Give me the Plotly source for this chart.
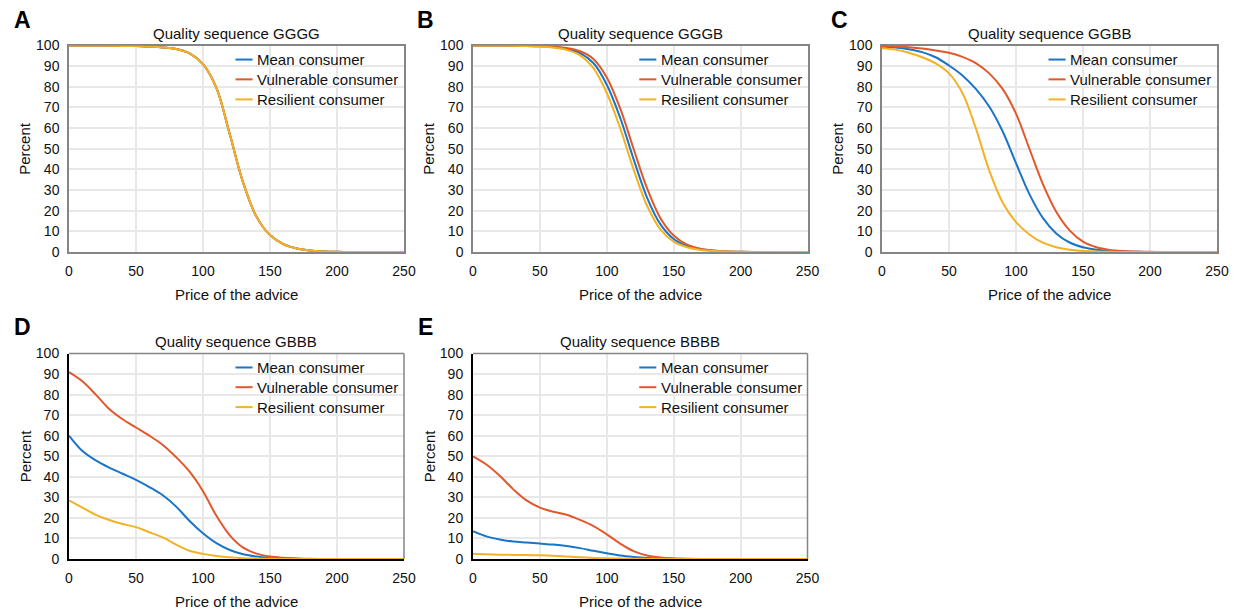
import plotly.graph_objects as go

# Price of the advice (x) shared by every panel
price = [0, 10, 20, 30, 40, 50, 60, 70, 80, 90, 100, 110, 120,
         130, 140, 150, 160, 170, 180, 190, 200, 210, 220, 230, 240, 250]

series_names = ["Mean consumer", "Vulnerable consumer", "Resilient consumer"]
series_colors = ["#1a75c6", "#e2582a", "#f2b225"]

panel_letters = ["A", "B", "C", "D", "E"]
panel_titles = ["Quality sequence GGGG", "Quality sequence GGGB", "Quality sequence GGBB",
                "Quality sequence GBBB", "Quality sequence BBBB"]

# Percent of consumers buying advice, per quality sequence
gggg_mean = [100, 100, 100, 99.9, 99.8, 99.7, 99.4, 99, 98.3, 96.2, 91, 79.5, 57,
             33.5, 17, 8.2, 3.8, 1.7, 0.7, 0.3, 0.1, 0, 0, 0, 0, 0]
gggg_vuln = [100, 100, 100, 99.9, 99.8, 99.7, 99.4, 99, 98.3, 96.2, 91, 79.5, 57,
             33.5, 17, 8.2, 3.8, 1.7, 0.7, 0.3, 0.1, 0, 0, 0, 0, 0]
gggg_res = [100, 100, 100, 99.9, 99.8, 99.7, 99.4, 99, 98.3, 96.2, 91, 79.5, 57,
            33.5, 17, 8.2, 3.8, 1.7, 0.7, 0.3, 0.1, 0, 0, 0, 0, 0]

gggb_mean = [100, 100, 100, 99.9, 99.8, 99.6, 99.2, 98.4, 96.3, 91.5, 81, 65, 45,
             26.5, 13.5, 6.3, 2.9, 1.3, 0.6, 0.25, 0.1, 0, 0, 0, 0, 0]
gggb_vuln = [100, 100, 100, 99.9, 99.8, 99.7, 99.4, 98.8, 97.2, 93.5, 84.5, 69.5, 50,
             31, 16.5, 8, 3.6, 1.6, 0.75, 0.3, 0.12, 0, 0, 0, 0, 0]
gggb_res = [100, 100, 100, 99.9, 99.7, 99.5, 99, 97.9, 95.2, 89, 77, 60, 40,
            22.5, 11, 5, 2.3, 1, 0.45, 0.2, 0.08, 0, 0, 0, 0, 0]

ggbb_mean = [99.4, 99, 98.2, 96.8, 94.3, 90.3, 85.5, 79, 70.5, 58.5, 43, 28, 16.5,
             9, 4.6, 2.3, 1.1, 0.5, 0.2, 0.1, 0, 0, 0, 0, 0, 0]
ggbb_vuln = [99.7, 99.5, 99.1, 98.5, 97.6, 96.5, 94.5, 91.5, 86.5, 79, 67, 50, 33,
             19.5, 10.5, 5, 2.3, 1, 0.45, 0.2, 0.1, 0, 0, 0, 0, 0]
ggbb_res = [98.7, 98, 96.5, 94.3, 91.3, 86.5, 77, 60, 39.5, 24, 14.5, 8.5, 4.5,
            2.3, 1.1, 0.5, 0.2, 0.1, 0, 0, 0, 0, 0, 0, 0, 0]

gbbb_mean = [60, 52.5, 48, 44.5, 41.5, 38.5, 35, 31, 25.5, 18.5, 12.5, 7.7, 4.4,
             2.3, 1.2, 0.6, 0.3, 0.1, 0, 0, 0, 0, 0, 0, 0, 0]
gbbb_vuln = [91, 86.5, 80, 73, 68, 64, 60, 55.5, 49.5, 42.5, 33, 21, 11.5,
             5.5, 2.6, 1.2, 0.6, 0.3, 0.1, 0, 0, 0, 0, 0, 0, 0]
gbbb_res = [28.5, 25, 21.5, 19, 17, 15.5, 13, 10.5, 7, 4, 2.5, 1.5, 0.8,
            0.4, 0.2, 0.1, 0, 0, 0, 0, 0, 0, 0, 0, 0, 0]

bbbb_mean = [13.5, 11, 9.5, 8.5, 8, 7.5, 7, 6.3, 5.3, 4, 2.8, 1.7, 1,
             0.5, 0.25, 0.1, 0.05, 0, 0, 0, 0, 0, 0, 0, 0, 0]
bbbb_vuln = [50, 46, 40.5, 34, 28.5, 25, 23, 21.5, 19, 16, 12, 7.5, 3.8,
             1.7, 0.7, 0.3, 0.15, 0.05, 0, 0, 0, 0, 0, 0, 0, 0]
bbbb_res = [2.6, 2.3, 2.1, 2, 1.9, 1.8, 1.6, 1.2, 0.8, 0.5, 0.35, 0.2, 0.1,
            0.05, 0, 0, 0, 0, 0, 0, 0, 0, 0, 0, 0, 0]

panel_data = [
    [gggg_mean, gggg_vuln, gggg_res],
    [gggb_mean, gggb_vuln, gggb_res],
    [ggbb_mean, ggbb_vuln, ggbb_res],
    [gbbb_mean, gbbb_vuln, gbbb_res],
    [bbbb_mean, bbbb_vuln, bbbb_res],
]

x_ticks = [0, 50, 100, 150, 200, 250]
y_ticks = [0, 10, 20, 30, 40, 50, 60, 70, 80, 90, 100]

W, H = 1237, 614
# plot-area boxes in pixels: (left, right, top, bottom)
boxes = [
    (69, 404, 45.5, 252),
    (473, 807.5, 45.5, 252),
    (882, 1217, 45.5, 252),
    (69, 404, 353.5, 559),
    (473, 807.5, 353.5, 559),
]
# bottom-row panels use black left/bottom axis lines
black_axes = [False, False, False, True, True]

FONT = "Liberation Sans, Arial, sans-serif"
GRID = "#e8e8e8"
FRAME = "#858585"
TXT = "#111111"

fig = go.Figure()
layout = dict(
    width=W, height=H,
    margin=dict(l=0, r=0, t=0, b=0, autoexpand=False),
    paper_bgcolor="white", plot_bgcolor="white",
    showlegend=False,
    font=dict(family=FONT, size=14, color=TXT),
)
shapes = []
annotations = []

legend_rows = [0.932, 0.836, 0.739]

for i in range(5):
    n = "" if i == 0 else str(i + 1)
    xa, ya = "x" + n, "y" + n
    left, right, top, bottom = boxes[i]
    xdom = [left / W, right / W]
    ydom = [1 - bottom / H, 1 - top / H]

    for k in range(3):
        fig.add_trace(go.Scatter(
            x=price, y=panel_data[i][k], name=series_names[k],
            mode="lines", line=dict(color=series_colors[k], width=2, shape="spline", smoothing=1),
            xaxis=xa, yaxis=ya, hoverinfo="skip",
        ))

    blk = black_axes[i]
    line_color = "black" if blk else FRAME
    line_width = 2 if blk else 1.5
    common = dict(
        showgrid=True, gridcolor=GRID, gridwidth=2, zeroline=False,
        showline=True, mirror=not blk, linecolor=line_color, linewidth=line_width,
        layer="below traces", ticks="", ticklabelstandoff=5, automargin=False,
        tickfont=dict(size=14, color=TXT), fixedrange=True,
    )
    layout["xaxis" + n] = dict(domain=xdom, anchor=ya, range=[0, 250], tickvals=x_ticks, **common)
    layout["yaxis" + n] = dict(domain=ydom, anchor=xa, range=[0, 100], tickvals=y_ticks, **common)

    if blk:
        # grey top and right edges of the frame
        shapes.append(dict(type="line", xref=xa + " domain", yref=ya + " domain",
                           x0=0, x1=1, y0=1, y1=1, line=dict(color=FRAME, width=1.5)))
        shapes.append(dict(type="line", xref=xa + " domain", yref=ya + " domain",
                           x0=1, x1=1, y0=0, y1=1, line=dict(color=FRAME, width=1.5)))

    # legend inside the upper right of each panel
    for k in range(3):
        shapes.append(dict(type="line", xref=xa + " domain", yref=ya + " domain",
                           x0=0.497, x1=0.548, y0=legend_rows[k], y1=legend_rows[k],
                           line=dict(color=series_colors[k], width=2)))
        annotations.append(dict(xref=xa + " domain", yref=ya + " domain",
                                x=0.556, y=legend_rows[k], xanchor="left", yanchor="middle",
                                text=series_names[k], showarrow=False,
                                font=dict(size=15, color=TXT)))

    # panel title
    annotations.append(dict(xref=xa + " domain", yref=ya + " domain", x=0.5, y=1,
                            xanchor="center", yanchor="bottom", yshift=2,
                            text=panel_titles[i], showarrow=False,
                            font=dict(size=15, color=TXT)))
    # axis titles
    annotations.append(dict(xref=xa + " domain", yref=ya + " domain", x=0.5, y=0,
                            xanchor="center", yanchor="top", yshift=-32,
                            text="Price of the advice", showarrow=False,
                            font=dict(size=15, color=TXT)))
    annotations.append(dict(xref=xa + " domain", yref=ya + " domain", x=0, y=0.5,
                            xanchor="center", yanchor="middle", xshift=-44,
                            text="Percent", textangle=-90, showarrow=False,
                            font=dict(size=15, color=TXT)))

# panel letters
letter_pos = [(22, 20), (425, 20), (839, 20), (22, 327), (426, 327)]
for (px, py), letter in zip(letter_pos, panel_letters):
    annotations.append(dict(xref="paper", yref="paper", x=px / W, y=1 - py / H,
                            xanchor="center", yanchor="middle", text="<b>%s</b>" % letter,
                            showarrow=False, font=dict(size=23, color="black")))

layout["shapes"] = shapes
layout["annotations"] = annotations
fig.update_layout(**layout)
fig.write_html("out.html", config={"displayModeBar": False})
